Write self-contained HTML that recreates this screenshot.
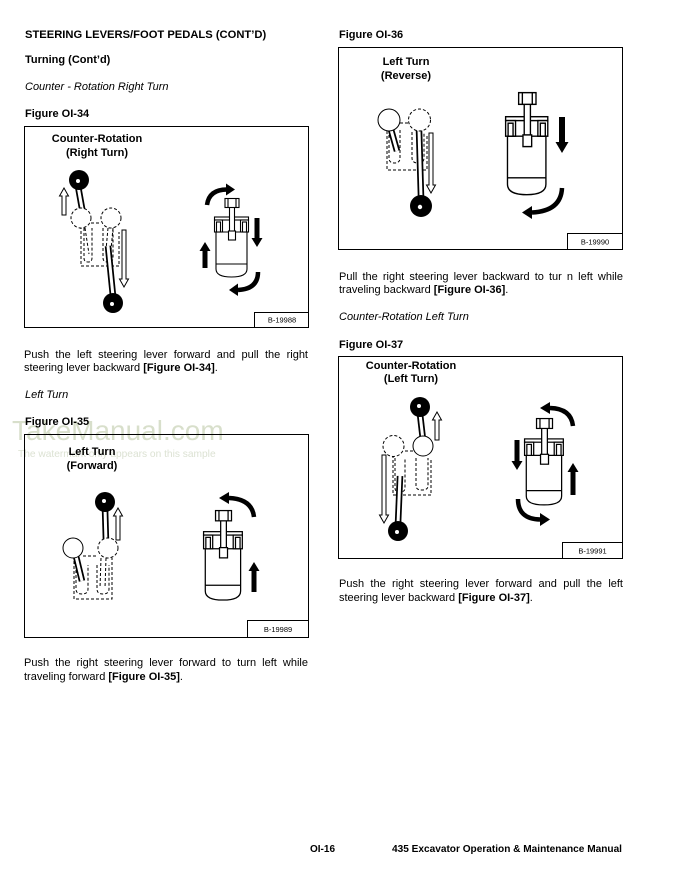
<!DOCTYPE html>
<html><head><meta charset="utf-8">
<style>
html,body{margin:0;padding:0;background:#fff;}
body{width:677px;height:876px;position:relative;overflow:hidden;font-family:"Liberation Sans",Arial,sans-serif;color:#000;}
.t{position:absolute;font-size:11px;line-height:13px;white-space:nowrap;}
.b{font-weight:bold;}
.i{font-style:italic;}
.j{position:absolute;font-size:11px;line-height:13px;width:284px;text-align:justify;text-align-last:justify;white-space:nowrap;}
.wm1{position:absolute;left:12px;top:417px;font-size:28px;line-height:28px;color:#d8dfcb;white-space:nowrap;z-index:0;}
.wm2{position:absolute;left:18px;top:449px;font-size:10.2px;line-height:12px;color:#dce2d3;white-space:nowrap;z-index:0;}
svg{position:absolute;left:0;top:0;z-index:1;}
.t,.j{z-index:2;}
</style></head><body>

<div class="wm1">TakeManual.com</div>
<div class="wm2">The watermark only appears on this sample</div>

<svg width="677" height="876" viewBox="0 0 677 876" xmlns="http://www.w3.org/2000/svg">
<defs>
 <g id="ex" stroke="#000" stroke-width="1.1" fill="#fff">
  <path d="M2,34 H33 V71 Q33,79 17.5,79 Q2,79 2,71 Z"/>
  <line x1="2" y1="66" x2="33" y2="66"/>
  <rect x="0.5" y="19" width="34" height="3"/>
  <rect x="0.5" y="22" width="8" height="12"/>
  <rect x="2.5" y="24" width="4" height="10"/>
  <rect x="26.5" y="22" width="8" height="12"/>
  <rect x="28.5" y="24" width="4" height="10"/>
  <rect x="15.5" y="9" width="5" height="26"/>
  <rect x="11" y="0.5" width="14" height="9"/>
  <line x1="14" y1="0.5" x2="14" y2="9.5"/>
  <line x1="22" y1="0.5" x2="22" y2="9.5"/>
  <rect x="14.5" y="33" width="7" height="9"/>
 </g>
</defs>

<g fill="none" stroke="#000" stroke-width="1">
 <rect x="24.5" y="126.5" width="284" height="201"/>
 <rect x="254.5" y="312.5" width="54" height="15"/>
 <rect x="24.5" y="434.5" width="284" height="203"/>
 <rect x="247.5" y="620.5" width="61" height="17"/>
 <rect x="338.5" y="47.5" width="284" height="202"/>
 <rect x="567.5" y="233.5" width="55" height="16"/>
 <rect x="338.5" y="356.5" width="284" height="202"/>
 <rect x="562.5" y="542.5" width="60" height="16"/>
</g>
<g font-family="Liberation Sans, Arial, sans-serif" font-size="7.5" text-anchor="middle" fill="#000">
 <text x="282" y="322.5">B-19988</text>
 <text x="278" y="632">B-19989</text>
 <text x="595" y="244.5">B-19990</text>
 <text x="592.5" y="553.5">B-19991</text>
</g>
<g font-family="Liberation Sans, Arial, sans-serif" font-size="11" font-weight="bold" text-anchor="middle" fill="#000">
 <text x="97" y="142">Counter-Rotation</text>
 <text x="97" y="156">(Right Turn)</text>
 <text x="92" y="455">Left Turn</text>
 <text x="92" y="469">(Forward)</text>
 <text x="406" y="65">Left Turn</text>
 <text x="406" y="79">(Reverse)</text>
 <text x="411" y="369">Counter-Rotation</text>
 <text x="411" y="382">(Left Turn)</text>
</g>

<!-- excavators -->
<use href="#ex" transform="translate(214,198)"/>
<use href="#ex" transform="translate(203,510) scale(1.14)"/>
<use href="#ex" transform="translate(505,92) scale(1.24,1.3)"/>
<use href="#ex" transform="translate(524,418) scale(1.14,1.1)"/>

<!-- filled arrows -->
<g fill="#000" stroke="none">
 <polygon points="254.5,218 259.5,218 259.5,238 262.5,238 257,247 251.5,238 254.5,238"/>
 <polygon points="202.5,268 207.5,268 207.5,251 210.5,251 205,242 199.5,251 202.5,251"/>
 <polygon points="226,183.5 235,189.5 226,195.5"/>
 <polygon points="238,283.5 229,290 238,296"/>
 <polygon points="229,492 219,498 229,504"/>
 <polygon points="251.5,592 256.5,592 256.5,571 259.5,571 254,562 248.5,571 251.5,571"/>
 <polygon points="559,117 565,117 565,142 568.5,142 562,153 555.5,142 559,142"/>
 <polygon points="532,206 522,212.5 532,219"/>
 <polygon points="550,402 540,408 550,414"/>
 <polygon points="514.5,440 519.5,440 519.5,461 522.5,461 517,470 511.5,461 514.5,461"/>
 <polygon points="570.5,495 575.5,495 575.5,472 578.5,472 573,463 567.5,472 570.5,472"/>
 <polygon points="540,513 550,519.5 540,526"/>
</g>
<g fill="none" stroke="#000" stroke-width="4.5">
 <path d="M207,205 Q209,189.5 227,189.5"/>
 <path d="M258,272 Q258,289 238,290"/>
 <path d="M254,517 Q252,499 229,498"/>
 <path d="M562,188 Q561,211 532,212.5"/>
 <path d="M573,426 Q571,408.5 550,408"/>
 <path d="M518,499 Q518,519 540,519.5"/>
</g>

<!-- ===== Levers fig34 ===== -->
<g fill="none" stroke="#000" stroke-width="1" stroke-dasharray="3 2">
 <path d="M81,226 V266 H119 V232"/>
 <path d="M84,228 V258 Q84,262 88,262 Q92,262 92,258 V228"/>
 <path d="M103,228 V258 Q103,262 108,262 Q113,262 113,258 V228"/>
 <line x1="85" y1="228" x2="89" y2="254"/>
 <line x1="108" y1="228" x2="106" y2="250"/>
 <line x1="113" y1="228" x2="111" y2="250"/>
</g>
<line x1="83" y1="214" x2="78" y2="186" stroke="#000" stroke-width="6.5"/>
<line x1="83" y1="214" x2="78" y2="186" stroke="#fff" stroke-width="3"/>
<g fill="#fff" stroke="#000" stroke-width="1" stroke-dasharray="3 2">
 <circle cx="81" cy="218" r="10"/>
 <circle cx="111" cy="218" r="10"/>
 <line x1="91" y1="223" x2="101" y2="223"/>
</g>
<line x1="108" y1="246" x2="113" y2="296" stroke="#000" stroke-width="6.5"/>
<line x1="108" y1="246" x2="113" y2="296" stroke="#fff" stroke-width="3"/>
<circle cx="79" cy="180" r="10" fill="#000"/><circle cx="78" cy="181" r="2" fill="#fff"/>
<circle cx="113" cy="303" r="10" fill="#000"/><circle cx="112" cy="304" r="2" fill="#fff"/>
<g fill="#fff" stroke="#000" stroke-width="1">
 <polygon points="62,215 66,215 66,196 68.5,196 64,188 59.5,196 62,196"/>
 <polygon points="122,230 126,230 126,279 128.5,279 124,287 119.5,279 122,279"/>
</g>

<!-- ===== Levers fig35 ===== -->
<g fill="none" stroke="#000" stroke-width="1" stroke-dasharray="3 2">
 <path d="M74,556 V599 H112 V558"/>
 <path d="M76,565 V589 Q76,594 82,594 Q88,594 88,589 V565"/>
 <path d="M97,565 V589 Q97,594 103,594 Q109,594 109,589 V565"/>
 <line x1="101" y1="558" x2="100" y2="588"/>
 <line x1="106" y1="558" x2="105" y2="588"/>
 <line x1="83" y1="556" x2="97" y2="556"/>
</g>
<line x1="75" y1="552" x2="82" y2="581" stroke="#000" stroke-width="6.5"/>
<line x1="75" y1="552" x2="82" y2="581" stroke="#fff" stroke-width="3"/>
<circle cx="73" cy="548" r="10" fill="#fff" stroke="#000" stroke-width="1"/>
<line x1="106" y1="542" x2="105" y2="508" stroke="#000" stroke-width="6.5"/>
<line x1="106" y1="542" x2="105" y2="508" stroke="#fff" stroke-width="3"/>
<circle cx="108" cy="548" r="10" fill="#fff" stroke="#000" stroke-width="1" stroke-dasharray="3 2"/>
<circle cx="105" cy="502" r="10" fill="#000"/><circle cx="104" cy="501" r="2" fill="#fff"/>
<polygon points="116,540 120,540 120,516 122.5,516 118,508 113.5,516 116,516" fill="#fff" stroke="#000" stroke-width="1"/>

<!-- ===== Levers fig36 ===== -->
<g fill="none" stroke="#000" stroke-width="1" stroke-dasharray="3 2">
 <path d="M387,131 V170 H427 V135"/>
 <path d="M389,130 V158 Q389,163 394.5,163 Q400,163 400,158 V130"/>
 <path d="M412,132 V158 Q412,163 418,163 Q424,163 424,158 V132"/>
 <line x1="400" y1="123" x2="408" y2="123"/>
</g>
<line x1="390" y1="126" x2="397" y2="151" stroke="#000" stroke-width="6.5"/>
<line x1="390" y1="126" x2="397" y2="151" stroke="#fff" stroke-width="3"/>
<circle cx="389" cy="120" r="11" fill="#fff" stroke="#000" stroke-width="1"/>
<line x1="419" y1="130" x2="421" y2="197" stroke="#000" stroke-width="6.5"/>
<line x1="419" y1="130" x2="421" y2="197" stroke="#fff" stroke-width="3"/>
<circle cx="419.5" cy="120" r="11" fill="#fff" stroke="#000" stroke-width="1" stroke-dasharray="3 2"/>
<circle cx="421" cy="206" r="11" fill="#000"/><circle cx="420" cy="207" r="2.2" fill="#fff"/>
<polygon points="429,133 433,133 433,185 435.5,185 431,193 426.5,185 429,185" fill="#fff" stroke="#000" stroke-width="1"/>

<!-- ===== Levers fig37 ===== -->
<g fill="none" stroke="#000" stroke-width="1" stroke-dasharray="3 2">
 <path d="M393,455 V495 H431 V460"/>
 <path d="M416,458 V486 Q416,490 422,490 Q428,490 428,486 V458"/>
 <path d="M395,458 V488 Q395,492 400,492 Q405,492 405,488 V458"/>
 <line x1="405" y1="451" x2="414" y2="451"/>
</g>
<line x1="423" y1="440" x2="420" y2="414" stroke="#000" stroke-width="6.5"/>
<line x1="423" y1="440" x2="420" y2="414" stroke="#fff" stroke-width="3"/>
<line x1="400" y1="476" x2="398" y2="524" stroke="#000" stroke-width="6.5"/>
<line x1="400" y1="476" x2="398" y2="524" stroke="#fff" stroke-width="3"/>
<circle cx="393.5" cy="446" r="10.5" fill="#fff" stroke="#000" stroke-width="1" stroke-dasharray="3 2"/>
<circle cx="423" cy="446" r="10" fill="#fff" stroke="#000" stroke-width="1"/>
<circle cx="420" cy="407" r="10" fill="#000"/><circle cx="419" cy="406" r="2" fill="#fff"/>
<circle cx="398" cy="531" r="10" fill="#000"/><circle cx="397" cy="532" r="2" fill="#fff"/>
<g fill="#fff" stroke="#000" stroke-width="1">
 <polygon points="435,440 439,440 439,420 441.5,420 437,412 432.5,420 435,420"/>
 <polygon points="382,455 386,455 386,515 388.5,515 384,523 379.5,515 382,515"/>
</g>
</svg>

<!-- Left column -->
<div class="t b" style="left:25px;top:29px;font-size:11.2px">STEERING LEVERS/FOOT PEDALS (CONT’D)</div>
<div class="t b" style="left:25px;top:54px">Turning (Cont’d)</div>
<div class="t i" style="left:25px;top:81px">Counter - Rotation Right Turn</div>
<div class="t b" style="left:25px;top:108px">Figure OI-34</div>

<div class="j" style="left:24px;top:349px">Push the left steering lever forward and pull the right</div>
<div class="t" style="left:24px;top:362px">steering lever backward <b>[Figure OI-34]</b>.</div>
<div class="t i" style="left:25px;top:389px">Left Turn</div>
<div class="t b" style="left:25px;top:416px">Figure OI-35</div>

<div class="j" style="left:24px;top:657px">Push the right steering lever forward to turn left while</div>
<div class="t" style="left:24px;top:671px">traveling forward <b>[Figure OI-35]</b>.</div>

<!-- Right column -->
<div class="t b" style="left:339px;top:29px">Figure OI-36</div>
<div class="j" style="left:339px;top:271px">Pull the right steering lever backward to tur n left while</div>
<div class="t" style="left:339px;top:284px">traveling backward <b>[Figure OI-36]</b>.</div>
<div class="t i" style="left:339px;top:311px">Counter-Rotation Left Turn</div>
<div class="t b" style="left:339px;top:339px">Figure OI-37</div>
<div class="j" style="left:339px;top:578px">Push the right steering lever forward and pull the left</div>
<div class="t" style="left:339px;top:592px">steering lever backward <b>[Figure OI-37]</b>.</div>

<!-- Footer -->
<div class="t b" style="left:310px;top:844px;font-size:10px;line-height:12px">OI-16</div>
<div class="t b" style="left:392px;top:844px;font-size:10.1px;line-height:12px">435 Excavator Operation &amp; Maintenance Manual</div>

</body></html>
